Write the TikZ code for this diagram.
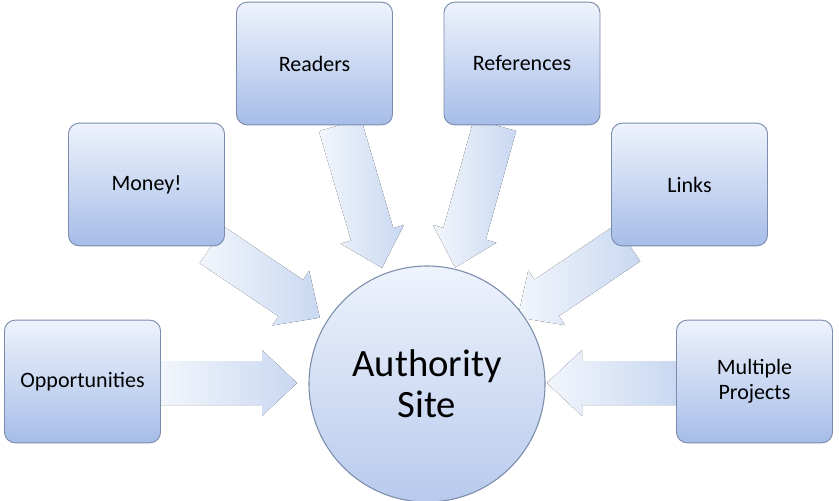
\documentclass[tikz,border=0pt]{standalone}
\usepackage{fontspec}
\setmainfont{Carlito}
\definecolor{btop}{HTML}{EEF3FC}
\definecolor{bbot}{HTML}{A6BDE8}
\definecolor{bline}{HTML}{7C8CAC}
\definecolor{atail}{HTML}{F2F6FC}
\definecolor{ahead}{HTML}{C9D8F1}
\begin{document}
\begin{tikzpicture}[x=0.75pt,y=-0.75pt,
  box/.style={draw=bline,line width=0.7pt,rounded corners=8pt,
    top color=btop,bottom color=bbot,
    minimum width=117pt,minimum height=92pt,font=\fontsize{16.5}{19}\selectfont,align=center},
  barrow/.style={left color=atail,right color=ahead,draw=none}]
\newcommand\blockarr[4]{% x,y,angle,length
  \begin{scope}[shift={(#1,#2)},rotate=#3]
    \fill[barrow] (0,-22) -- (#4-35,-22) -- (#4-35,-33) -- (#4,0) -- (#4-35,33) -- (#4-35,22) -- (0,22) -- cycle;
  \end{scope}}
\useasboundingbox (0,0) rectangle (839,500);
% arrows
\blockarr{160}{383}{0}{137}
\blockarr{212}{245}{-34}{130}
\blockarr{340}{125}{-73.6}{149}
\blockarr{495}{125}{-105.6}{148}
\blockarr{628}{243}{214}{133}
\blockarr{676}{383}{180}{129}
% boxes
\node[box] (opp) at (82.5,381.5) {Opportunities};
\node[box] (money) at (146.5,184.5) {Money!};
\node[box] (read) at (314.5,63.5) {Readers};
\node[box] (refs) at (522,63.5) {References};
\node[box] (links) at (689.5,184.5) {Links};
\node[box] (multi) at (754.5,381.5) {Multiple\\Projects};
% circle
\node[circle,draw=bline,line width=0.8pt,minimum size=177pt,
  top color=btop,bottom color=bbot!80!white,
  font=\fontsize{29}{31}\selectfont,align=center] (site) at (427,384) {Authority\\Site};
\end{tikzpicture}
\end{document}
